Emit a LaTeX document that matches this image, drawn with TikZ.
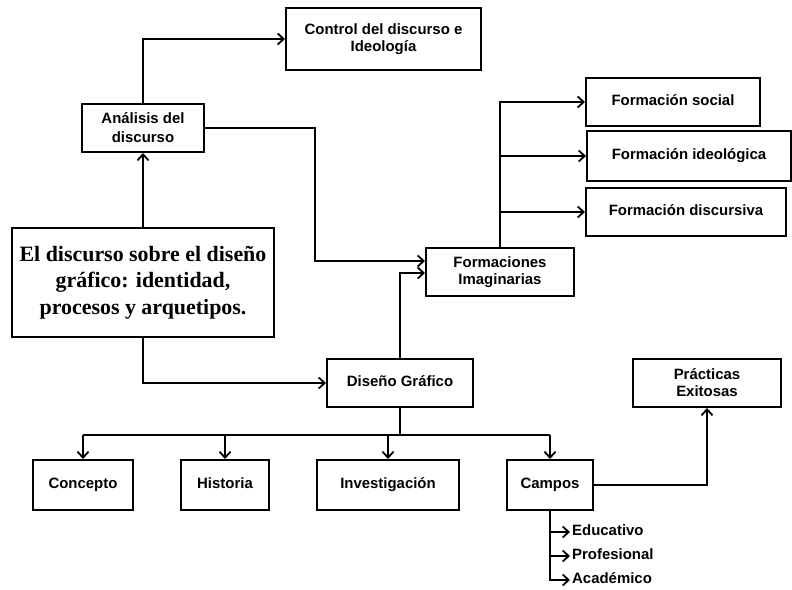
\documentclass[tikz,border=0pt]{standalone}
\usepackage{fontspec}
\setmainfont{Liberation Sans}
\newfontfamily\titlefont{Liberation Serif}
\usetikzlibrary{arrows.meta}

\tikzset{
  caja/.style={draw, line width=2bp, align=center, inner sep=2pt,
    font=\bfseries\fontsize{15}{17}\selectfont},
  una/.style={text height=11pt, text depth=3pt},
  linea/.style={line width=2bp},
  flecha/.style={linea, -{Straight Barb[length=6bp,width=11bp,line width=1.8bp]}},
  hoja/.style={anchor=west, inner sep=2pt, font=\bfseries\fontsize{15}{17}\selectfont},
}

\begin{document}
\begin{tikzpicture}[x=1bp,y=-1bp]
  \useasboundingbox (0,0) rectangle (792,590);
  % boxes
  \node[caja, minimum width=195bp, minimum height=62bp] (ctrl) at (383.5,39) {Control del discurso e\\Ideología};
  \node[caja, minimum width=122bp, minimum height=48bp, font=\bfseries\fontsize{15}{19}\selectfont] (anal) at (143,128) {Análisis del\\discurso};
  \node[caja, minimum width=262bp, minimum height=109bp, font=\titlefont\bfseries\fontsize{22}{26.5}\selectfont] (main) at (143,282.5) {El discurso sobre el diseño\\gráfico: identidad,\\procesos y arquetipos.};
  \node[caja, minimum width=148bp, minimum height=48bp] (formimg) at (500,272) {Formaciones\\Imaginarias};
  \node[caja, una, minimum width=174bp, minimum height=48bp] (fsoc) at (673,102) {Formación social};
  \node[caja, una, minimum width=204bp, minimum height=50bp] (fideo) at (689,156) {Formación ideológica};
  \node[caja, una, minimum width=200bp, minimum height=48bp] (fdisc) at (686,212) {Formación discursiva};
  \node[caja, una, minimum width=146bp, minimum height=48bp] (dg) at (400,383) {Diseño Gráfico};
  \node[caja, minimum width=148bp, minimum height=48bp] (prac) at (707,383) {Prácticas\\Exitosas};
  \node[caja, una, minimum width=100bp, minimum height=50bp] (conc) at (83,485) {Concepto};
  \node[caja, una, minimum width=88bp, minimum height=50bp] (hist) at (225,485) {Historia};
  \node[caja, una, minimum width=142bp, minimum height=50bp] (inv) at (388,485) {Investigación};
  \node[caja, una, minimum width=86bp, minimum height=50bp] (camp) at (550,485) {Campos};
  % campos list
  \node[hoja, una] (edu) at (570,532) {Educativo};
  \node[hoja, una] (pro) at (570,556) {Profesional};
  \node[hoja, una] (aca) at (570,580) {Académico};

  \coordinate (k1) at (315,261);
  \coordinate (bus) at (400,435);

  % connectors
  \draw[flecha] (main.north) -- (anal.south);
  \draw[flecha] (anal.north) |- (ctrl.west);
  \draw[flecha] (anal.east) -| (k1) -- (k1 -| formimg.west);
  \draw[flecha] (dg.north) |- ([yshift=-1bp]formimg.west);
  \draw[flecha] (formimg.north) |- (fsoc.west);
  \draw[flecha] (formimg.north |- fideo.west) -- (fideo.west);
  \draw[flecha] (formimg.north |- fdisc.west) -- (fdisc.west);
  \draw[flecha] (main.south) |- (dg.west);
  \draw[linea] (dg.south) -- (bus);
  \draw[linea] (conc.north |- bus) -- (camp.north |- bus);
  \draw[flecha] (conc.north |- bus) -- (conc.north);
  \draw[flecha] (hist.north |- bus) -- (hist.north);
  \draw[flecha] (inv.north |- bus) -- (inv.north);
  \draw[flecha] (camp.north |- bus) -- (camp.north);
  \draw[flecha] (camp.east) -| (prac.south);
  \draw[flecha] (camp.south |- edu.west) -- (edu.west);
  \draw[flecha] (camp.south |- pro.west) -- (pro.west);
  \draw[flecha] (camp.south) |- (aca.west);
\end{tikzpicture}
\end{document}
